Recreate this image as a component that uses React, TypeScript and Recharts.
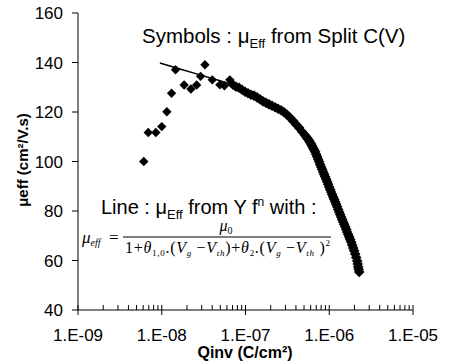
import { ScatterChart, Scatter, XAxis, YAxis } from "recharts";

// split C(V) mobility, low inversion charge (scattered points)
const qLow = [
  6.1e-9, 6.9e-9, 8.5e-9, 1.0e-8, 1.15e-8, 1.31e-8, 1.46e-8, 1.85e-8, 2.23e-8, 2.61e-8,
  2.91e-8, 3.28e-8, 4.01e-8, 4.95e-8, 5.6e-8, 6.5e-8,
];
const muLow = [
  100.0, 111.7, 111.7, 114.1, 120.1, 127.6, 137.1, 130.9, 129.3, 130.9,
  134.4, 139.1, 133.0, 131.0, 130.6, 133.0,
];

// split C(V) mobility, dense part of the sweep
const qHigh = [
  7.09e-8, 7.7e-8, 8.36e-8, 9.08e-8, 9.86e-8, 1.071e-7, 1.163e-7, 1.264e-7, 1.373e-7, 1.491e-7,
  1.619e-7, 1.759e-7, 1.91e-7, 2.075e-7, 2.254e-7, 2.447e-7, 2.658e-7, 2.887e-7, 3.136e-7, 3.405e-7,
  3.699e-7, 4.018e-7, 4.365e-7, 4.74e-7, 5.148e-7, 5.292e-7, 5.439e-7, 5.592e-7, 5.749e-7, 5.909e-7,
  6.074e-7, 6.245e-7, 6.418e-7, 6.599e-7, 6.781e-7, 6.972e-7, 7.166e-7, 7.365e-7, 7.571e-7, 7.782e-7,
  8.0e-7, 8.226e-7, 8.453e-7, 8.69e-7, 8.933e-7, 9.182e-7, 9.438e-7, 9.7e-7, 9.97e-7, 1.025e-6,
  1.054e-6, 1.083e-6, 1.114e-6, 1.144e-6, 1.177e-6, 1.209e-6, 1.243e-6, 1.278e-6, 1.314e-6, 1.35e-6,
  1.388e-6, 1.426e-6, 1.467e-6, 1.507e-6, 1.55e-6, 1.593e-6, 1.637e-6, 1.683e-6, 1.73e-6, 1.778e-6,
  1.828e-6, 1.878e-6, 1.931e-6, 1.985e-6, 2.041e-6, 2.098e-6, 2.157e-6, 2.186e-6, 2.216e-6, 2.247e-6,
  2.279e-6,
];
const muHigh = [
  131.0, 130.2, 129.8, 129.0, 128.2, 127.6, 127.0, 126.6, 125.9, 125.1,
  124.3, 123.7, 123.1, 122.5, 121.9, 121.3, 120.7, 119.9, 118.9, 117.7,
  116.4, 115.0, 113.6, 112.0, 110.6, 110.0, 109.5, 109.0, 108.4, 107.7,
  107.1, 106.3, 105.5, 104.7, 103.9, 102.9, 101.9, 100.9, 99.9, 98.8,
  97.8, 96.8, 95.8, 94.8, 93.8, 92.8, 91.8, 90.8, 89.7, 88.7,
  87.7, 86.7, 85.7, 84.7, 83.7, 82.7, 81.7, 80.6, 79.6, 78.6,
  77.6, 76.6, 75.6, 74.6, 73.6, 72.6, 71.5, 70.5, 69.5, 68.5,
  67.5, 66.3, 65.1, 63.9, 62.6, 61.2, 59.8, 58.6, 57.4, 56.4,
  55.4,
];

// Y-function fit
const qFit = [9.5e-9, 1.5e-8, 2.86e-8, 4.53e-8, 7.09e-8, 1.07e-7, 1.62e-7, 2.66e-7, 3.7e-7, 5.15e-7, 7.17e-7, 1.0e-6, 1.39e-6, 1.83e-6, 2.28e-6];
const muFit = [139.8, 137.8, 135.0, 133.0, 131.0, 127.6, 124.3, 120.7, 116.4, 110.6, 101.9, 89.7, 79.6, 69.5, 55.4];

const majorTicks = [1e-9, 1e-8, 1e-7, 1e-6, 1e-5];
const minorMult = [2, 3, 4, 5, 6, 7, 8, 9];
const yTicks = [40, 60, 80, 100, 120, 140, 160];

const lowData = qLow.map((q, i) => ({ q, mu: muLow[i] }));
const highData = qHigh.map((q, i) => ({ q, mu: muHigh[i] }));
const fitData = qFit.map((q, i) => ({ q, mu: muFit[i] }));
const xTicks = [
  ...majorTicks,
  ...majorTicks.slice(0, -1).flatMap((d) => minorMult.map((m) => m * d)),
].sort((a, b) => a - b);

const FONT = "'Liberation Sans', Arial, sans-serif";
const SERIF = "'Liberation Serif', 'Times New Roman', serif";

function fmtExp(v: number) {
  const e = Math.round(Math.log10(v));
  return `1.E${e < 0 ? "-" : "+"}${String(Math.abs(e)).padStart(2, "0")}`;
}

// tick marks come from the axis (tickSize < 0 => inside); this only adds labels
// and the outside stub of the decade ticks. y here is axis y - 5.
function XTick(props: any) {
  const { x, y, payload } = props;
  const v = payload.value;
  const e = Math.log10(v);
  const major = Math.abs(e - Math.round(e)) < 1e-6;
  if (!major) return <g />;
  return (
    <g>
      <path d={`M${x},${y + 5}V${y + 10}`} stroke="#000" strokeWidth={1} />
      <text x={x} y={y + 36} textAnchor="middle" fontSize={17} fill="#000" fontFamily={FONT}>
        {fmtExp(v)}
      </text>
    </g>
  );
}

function makeDiamond(r: number) {
  return (props: any) => {
    const { cx, cy } = props;
    return <polygon points={`${cx},${cy - r} ${cx + r},${cy} ${cx},${cy + r} ${cx - r},${cy}`} fill="#000" />;
  };
}

export default function App() {
  return (
    <div style={{ position: "fixed", left: 0, top: 0, width: 454, height: 362, background: "#fff", fontFamily: FONT }}>
      <ScatterChart width={454} height={362} margin={{ top: 13, right: 41, bottom: 22, left: 18 }}>
        <XAxis
          type="number"
          dataKey="q"
          scale="log"
          domain={[1e-9, 1e-5]}
          allowDataOverflow
          ticks={xTicks}
          interval={0}
          tickSize={-5}
          tickMargin={0}
          tick={<XTick />}
          tickLine={{ stroke: "#000" }}
          axisLine={{ stroke: "#000" }}
          height={30}
        />
        <YAxis
          type="number"
          dataKey="mu"
          domain={[40, 160]}
          ticks={yTicks}
          interval={0}
          width={60}
          tickSize={6}
          tickMargin={9}
          tick={{ fontSize: 17, fill: "#000", fontFamily: FONT }}
          tickLine={{ stroke: "#000" }}
          axisLine={{ stroke: "#000" }}
        />
        <Scatter data={lowData} shape={makeDiamond(4.7)} isAnimationActive={false} />
        <Scatter data={highData} shape={makeDiamond(5.3)} isAnimationActive={false} />
        <Scatter
          data={fitData}
          line={{ stroke: "#000", strokeWidth: 1.5 }}
          shape={() => <g />}
          isAnimationActive={false}
        />
      </ScatterChart>
      <svg width={454} height={362} style={{ position: "absolute", left: 0, top: 0, pointerEvents: "none" }}>
        <text x={142} y={43} fontSize={20.5} fontFamily={FONT} fill="#000">
          Symbols : μ<tspan fontSize={13} dy={5}>Eff</tspan>
          <tspan dy={-5}> from Split C(V)</tspan>
        </text>
        <text x={101} y={214} fontSize={20} fontFamily={FONT} fill="#000">
          Line : μ<tspan fontSize={13} dy={5}>Eff</tspan>
          <tspan dy={-5}> from Y f</tspan>
          <tspan fontSize={12} dy={-8}>n</tspan>
          <tspan dy={8}> with :</tspan>
        </text>
        <g fontFamily={SERIF} fill="#000">
          <text x={82} y={243} fontSize={17} fontStyle="italic">
            μ<tspan fontSize={10} dy={3}>eff</tspan>
          </text>
          <text x={109} y={243} fontSize={17}>=</text>
          <text x={226} y={231} fontSize={16} fontStyle="italic" textAnchor="middle">
            μ<tspan fontSize={10} dy={3} fontStyle="normal">0</tspan>
          </text>
          <line x1={123} x2={331} y1={237} y2={237} stroke="#000" strokeWidth={1} />
          <text x={125} y={253} fontSize={16} textLength={205} lengthAdjust="spacing">
            1+<tspan fontStyle="italic">θ</tspan>
            <tspan fontSize={9} dy={3}>1,0</tspan>
            <tspan dy={-3}>.(</tspan>
            <tspan fontStyle="italic">V</tspan>
            <tspan fontSize={9} dy={3} fontStyle="italic">g</tspan>
            <tspan dy={-3}> −</tspan>
            <tspan fontStyle="italic">V</tspan>
            <tspan fontSize={9} dy={3} fontStyle="italic">th</tspan>
            <tspan dy={-3}>)+</tspan>
            <tspan fontStyle="italic">θ</tspan>
            <tspan fontSize={9} dy={3}>2</tspan>
            <tspan dy={-3}>.(</tspan>
            <tspan fontStyle="italic">V</tspan>
            <tspan fontSize={9} dy={3} fontStyle="italic">g</tspan>
            <tspan dy={-3}> −</tspan>
            <tspan fontStyle="italic">V</tspan>
            <tspan fontSize={9} dy={3} fontStyle="italic">th</tspan>
            <tspan dy={-3}> )</tspan>
            <tspan fontSize={9} dy={-7}>2</tspan>
          </text>
        </g>
        <text x={245} y={358} fontSize={16} fontWeight="bold" textAnchor="middle" fontFamily={FONT} fill="#000">
          Qinv (C/cm²)
        </text>
        <text
          transform="translate(28,160) rotate(-90)"
          fontSize={15}
          fontWeight="bold"
          textAnchor="middle"
          fontFamily={FONT}
          fill="#000"
        >
          μeff (cm²/V.s)
        </text>
      </svg>
    </div>
  );
}
